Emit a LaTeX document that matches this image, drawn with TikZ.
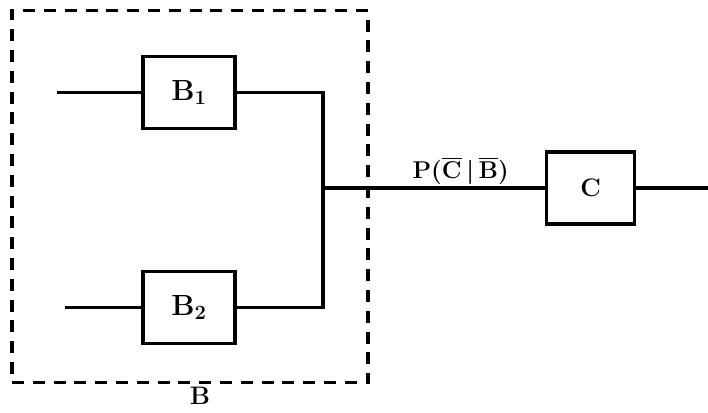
\documentclass[tikz,border=0pt]{standalone}
\usepackage{amsmath}
\usepackage{tikz}
\usetikzlibrary{positioning}
\tikzset{
blockbox/.style={rectangle,draw=black,line width=2.4pt,minimum width=2.3cm,
  minimum height=1.8cm,align=center,font=\fontsize{21}{25}\selectfont\bfseries\boldmath},
groupbox/.style={rectangle,draw=black,line width=2.4pt,
  dash pattern=on 0.3cm off 0.22cm,minimum width=8.9cm,minimum height=9.3cm},
wire/.style={line width=2.4pt},
tag/.style={font=\fontsize{16}{19}\selectfont\bfseries\boldmath,inner sep=1pt}
}
\begin{document}
\begin{tikzpicture}
\useasboundingbox (0,0) rectangle (17.7,10.3);
% dashed subsystem B
\node[groupbox] (grp) at (4.75,5.38) {};
\node[tag,font=\fontsize{18}{22}\selectfont\bfseries,inner sep=0pt,
  below=0.06cm of grp.south,xshift=0.25cm] (grplabel) {B};

\node[blockbox] (b1) at (4.725,7.99) {$\mathbf{B}_{\mathbf{1}}$};
\node[blockbox,below=3.5cm of b1] (b2) {$\mathbf{B}_{\mathbf{2}}$};
\coordinate[left=2.1cm of b1.west] (in1);
\coordinate[left=1.9cm of b2.west] (in2);
\coordinate (join) at (8.075,5.6);
\node[blockbox,minimum width=2.2cm,right=5.55cm of join,font=\fontsize{18}{22}\selectfont\bfseries] (c) {C};
\coordinate (out) at (17.7,5.6);

\draw[wire] (in1) -- (b1);
\draw[wire] (in2) -- (b2);
\draw[wire] (b1) -| (join);
\draw[wire] (b2) -| (join);
\draw[wire] (join) -- node[tag,above,pos=0.62] (plabel)
  {$\mathbf{P}(\overline{\mathbf{C}}\,|\,\overline{\mathbf{B}})$} (c);
\draw[wire] (c) -- (out);
\end{tikzpicture}
\end{document}
